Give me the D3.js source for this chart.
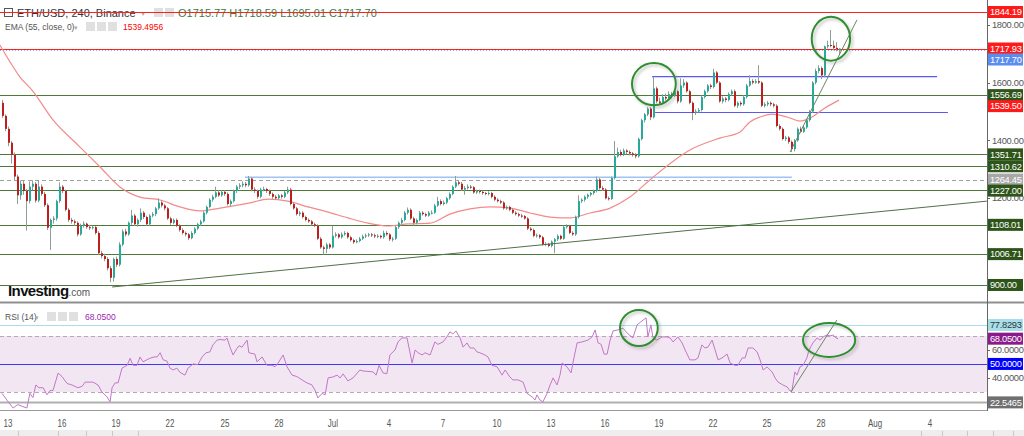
<!DOCTYPE html>
<html>
  <head>
    <meta charset="utf-8">
    <title>ETH/USD, 240, Binance</title>
    <script src="https://d3js.org/d3.v7.min.js"></script>
    <style>
      body { margin: 0; background: #fff; }
      svg { display: block; font-family: "Liberation Sans", Arial, sans-serif; }
      .narrow { font-family: "Liberation Sans", Arial, sans-serif; font-size: 10px; }
      .tag { font-family: "Liberation Sans", Arial, sans-serif; font-size: 9.3px; letter-spacing: -0.3px; }
    </style>
  </head>
  <body>
    <script>
      // bar index = 4h bars counted from 13 Jun 00:00, first visible bar is -2
      var firstBar = -2;

      var opens = [
        1530,1485,1440,1392,1350,1275,1210,1250,1225,1190,
        1240,1250,1192,1240,1215,1176,1098,1125,1130,1190,
        1240,1225,1160,1125,1120,1115,1075,1105,1112,1100,
        1098,1100,1080,1010,1000,990,958,925,990,970,
        1040,1085,1075,1115,1140,1110,1125,1150,1135,1110,
        1140,1145,1165,1185,1175,1165,1130,1115,1125,1105,
        1090,1080,1075,1062,1080,1095,1110,1120,1150,1170,
        1195,1205,1220,1210,1222,1215,1180,1190,1225,1240,
        1245,1250,1245,1268,1230,1225,1205,1230,1232,1225,
        1215,1205,1200,1210,1205,1220,1230,1180,1165,1145,
        1150,1135,1125,1120,1110,1105,1060,1030,1025,1040,
        1030,1070,1075,1065,1075,1080,1065,1055,1048,1052,
        1060,1068,1072,1075,1072,1068,1070,1065,1080,1075,
        1058,1060,1100,1115,1125,1150,1160,1130,1115,1125,
        1150,1145,1140,1150,1150,1175,1190,1180,1185,1200,
        1215,1240,1255,1250,1230,1235,1240,1238,1220,1225,
        1222,1218,1215,1218,1205,1195,1190,1185,1165,1170,
        1160,1150,1145,1140,1138,1130,1095,1090,1070,1072,
        1065,1040,1042,1035,1050,1058,1070,1060,1100,1105,
        1080,1075,1135,1190,1195,1205,1212,1218,1225,1265,
        1235,1230,1200,1198,1270,1345,1360,1350,1365,1360,
        1355,1350,1345,1405,1470,1490,1510,1480,1580,1535,
        1530,1550,1545,1560,1555,1570,1535,1590,1600,1570,
        1530,1495,1500,1505,1550,1570,1590,1585,1635,1600,
        1535,1545,1540,1560,1570,1520,1530,1525,1550,1590,
        1605,1600,1605,1600,1520,1525,1530,1525,1520,1450,
        1440,1405,1410,1395,1370,1400,1440,1430,1445,1470,
        1500,1600,1640,1650,1625,1725,1730,1728,1720,1715.77
      ];
      var highs = [
        1540,1490,1448,1398,1358,1282,1262,1262,1232,1258,
        1262,1256,1262,1248,1222,1182,1130,1138,1195,1255,
        1246,1230,1166,1132,1126,1120,1112,1120,1116,1108,
        1106,1104,1086,1018,1008,996,966,995,998,1048,
        1092,1094,1120,1160,1146,1130,1165,1156,1140,1145,
        1152,1170,1200,1192,1180,1170,1136,1130,1130,1110,
        1096,1085,1080,1086,1100,1115,1126,1155,1175,1200,
        1212,1240,1228,1228,1228,1220,1196,1230,1246,1252,
        1258,1256,1277,1272,1238,1230,1236,1240,1236,1230,
        1220,1212,1215,1215,1226,1240,1236,1186,1170,1156,
        1155,1140,1130,1125,1116,1110,1066,1036,1046,1045,
        1105,1082,1080,1082,1086,1084,1070,1060,1058,1066,
        1074,1078,1080,1080,1078,1076,1074,1088,1086,1080,
        1066,1106,1120,1132,1156,1168,1165,1136,1130,1156,
        1156,1150,1156,1158,1180,1205,1196,1192,1205,1220,
        1245,1277,1262,1256,1242,1248,1246,1242,1230,1230,
        1226,1222,1224,1222,1210,1200,1195,1190,1175,1174,
        1165,1155,1150,1146,1142,1135,1100,1095,1078,1076,
        1070,1048,1046,1054,1062,1075,1074,1105,1110,1108,
        1086,1140,1210,1200,1210,1216,1222,1230,1275,1270,
        1242,1235,1206,1275,1398,1375,1368,1372,1370,1366,
        1360,1356,1410,1475,1495,1515,1516,1620,1586,1548,
        1560,1562,1570,1568,1578,1575,1615,1612,1605,1575,
        1535,1508,1512,1556,1576,1595,1596,1648,1640,1605,
        1552,1550,1566,1576,1576,1535,1536,1556,1595,1625,
        1612,1612,1660,1605,1532,1536,1535,1530,1525,1456,
        1445,1416,1415,1400,1405,1445,1448,1450,1475,1505,
        1605,1648,1660,1656,1728,1745,1782,1745,1740,1718.59
      ];
      var lows = [
        1478,1432,1380,1320,1262,1180,1195,1212,1088,1182,
        1228,1185,1186,1208,1170,1090,1021,1112,1122,1184,
        1218,1155,1118,1112,1105,1068,1070,1098,1094,1090,
        1092,1074,1004,992,982,950,910,912,962,964,
        1034,1068,1070,1108,1104,1102,1118,1128,1104,1104,
        1134,1138,1160,1168,1158,1125,1108,1110,1100,1084,
        1074,1068,1055,1058,1075,1090,1104,1116,1144,1165,
        1188,1200,1204,1205,1208,1175,1172,1185,1218,1232,
        1238,1238,1240,1224,1218,1198,1200,1224,1218,1208,
        1198,1194,1195,1198,1200,1214,1175,1160,1140,1138,
        1130,1120,1115,1105,1100,1055,1025,1005,1010,1024,
        1026,1064,1060,1060,1070,1060,1050,1042,1044,1048,
        1055,1062,1066,1066,1062,1062,1060,1060,1070,1052,
        1050,1056,1094,1110,1120,1144,1125,1105,1110,1120,
        1140,1135,1136,1144,1146,1170,1175,1175,1180,1195,
        1210,1235,1244,1225,1212,1230,1232,1215,1215,1216,
        1212,1210,1210,1200,1190,1185,1180,1160,1160,1155,
        1145,1140,1135,1132,1126,1090,1085,1065,1064,1060,
        1036,1034,1030,1030,1010,1052,1055,1056,1095,1076,
        1070,1070,1130,1184,1188,1198,1206,1212,1220,1230,
        1225,1196,1192,1194,1265,1340,1345,1346,1352,1348,
        1344,1338,1340,1400,1462,1484,1470,1476,1528,1522,
        1525,1538,1540,1545,1550,1528,1530,1582,1565,1525,
        1470,1488,1494,1500,1545,1565,1578,1580,1595,1530,
        1528,1532,1535,1555,1515,1512,1518,1520,1545,1585,
        1594,1596,1595,1515,1514,1518,1518,1514,1445,1434,
        1400,1398,1388,1360,1362,1395,1425,1426,1440,1465,
        1495,1594,1632,1612,1618,1718,1722,1712,1708,1695.01
      ];
      var closes = [
        1485,1440,1392,1350,1275,1210,1250,1225,1190,1240,
        1250,1192,1240,1215,1176,1098,1125,1130,1190,1240,
        1225,1160,1125,1120,1115,1075,1105,1112,1100,1098,
        1100,1080,1010,1000,990,958,925,990,970,1040,
        1085,1075,1115,1140,1110,1125,1150,1135,1110,1140,
        1145,1165,1185,1175,1165,1130,1115,1125,1105,1090,
        1080,1075,1062,1080,1095,1110,1120,1150,1170,1195,
        1205,1220,1210,1222,1215,1180,1190,1225,1240,1245,
        1250,1245,1268,1230,1225,1205,1230,1232,1225,1215,
        1205,1200,1210,1205,1220,1230,1180,1165,1145,1150,
        1135,1125,1120,1110,1105,1060,1030,1025,1040,1030,
        1070,1075,1065,1075,1080,1065,1055,1048,1052,1060,
        1068,1072,1075,1072,1068,1070,1065,1080,1075,1058,
        1060,1100,1115,1125,1150,1160,1130,1115,1125,1150,
        1145,1140,1150,1150,1175,1190,1180,1185,1200,1215,
        1240,1255,1250,1230,1235,1240,1238,1220,1225,1222,
        1218,1215,1218,1205,1195,1190,1185,1165,1170,1160,
        1150,1145,1140,1138,1130,1095,1090,1070,1072,1065,
        1040,1042,1035,1050,1058,1070,1060,1100,1105,1080,
        1075,1135,1190,1195,1205,1212,1218,1225,1265,1235,
        1230,1200,1198,1270,1345,1360,1350,1365,1360,1355,
        1350,1345,1405,1470,1490,1510,1480,1580,1535,1530,
        1550,1545,1560,1555,1570,1535,1590,1600,1570,1530,
        1495,1500,1505,1550,1570,1590,1585,1635,1600,1535,
        1545,1540,1560,1570,1520,1530,1525,1550,1590,1605,
        1600,1605,1600,1520,1525,1530,1525,1520,1450,1440,
        1405,1410,1395,1370,1400,1440,1430,1445,1470,1500,
        1600,1640,1650,1625,1725,1730,1728,1720,1715.77,1717.70
      ];

      // EMA(55) (bar, value)
      var emaBars = [-2.7,0.7,4,8,15,24,30.7,37.3,44,50.7,57.3,64,70.7,80.7,86.7,93.3,100,106.7,113.3,120,
        126.7,133.3,140.7,147.3,154,160.7,167.3,174,180.7,187.3,194,200.7,207.3,214.7,227.3,237.3,244,247.3,250.7,254.7,
        259.7,264,267.3,272.3,277];
      var emaValues = [1730,1671,1619,1574,1471,1377,1308,1239,1204,1194,1170,1156,1166,1184,1197,1190,1170,1152,1132,1114,
        1104,1111,1114,1145,1163,1170,1166,1149,1135,1132,1149,1166,1204,1270,1367,1408,1429,1464,1481,1491,
        1481,1467,1477,1512,1539.5];

      // RSI(14) (bar, value)
      var rsiBars = [-2,-0.3,1.7,3.3,5,6.3,7.3,8.3,9.3,10.3,11.7,13,14,15,16.7,18,19.7,21.3,23.3,24.7,
        25.7,28.3,30,31.3,33,34,34.7,35.7,36.7,38,39.7,40.7,41.7,43,44,45,46.3,47.3,48.7,49.7,
        50.7,51.7,53,54,55,56.3,57.3,59,60,61.7,63.3,64.7,66,67.3,68.3,69.7,70.7,72.3,73,74,
        75,76.3,77,78,79.7,80.3,82.3,83,84.7,86.3,88,89,90,91.7,93,94.7,96.3,98,99.7,101.3,
        102.3,103.3,104.7,105.7,106.7,108.3,109.7,110.7,111.7,113.3,115,117.3,118.3,121.7,122.7,123.7,125,126.3,127.3,129,
        130,131.3,133,134.7,135.7,136.7,138,139,140.7,142.3,143.3,145,146.3,147.3,148.3,149.3,150.7,151.7,153,154,
        155.3,156.3,157.3,159,160,161.3,163,164.7,165.7,167.3,168.3,170,171.7,173,174.7,175.7,176.3,177.3,178.3,179.7,
        180.7,181.7,183,184,184.7,186.3,187.7,188.3,189.7,191.3,193.3,194.7,195.7,196.7,197.7,198.7,199.7,200.7,201.7,203.3,
        205,206.7,208.3,209.7,211.7,212.7,213.3,214.3,215,216.3,218,219.7,220.7,221.7,223.3,224.7,225.7,227.3,229,230,
        231.3,232.3,233.3,234.7,235.7,236.7,238,239.7,240.7,242.3,243.3,244.7,245.7,246.7,248.3,249.7,250.7,251.7,253,254.7,
        255.7,256.7,258.3,259.7,260.7,261.3,262.3,263,264,265,266.3,267,268.3,269.7,270.7,271.7,273,274,275,276,276.7];
      var rsiValues = [29,24,18.5,21,19.5,18.5,29,26,35,33,33,28,31,31,43.5,41,36,35,33,34,
        37,37,35,30,26.5,23,33,36.5,36.5,47,49,54,49,49,55,51.5,53,54,55,55,
        58,53,52,47,45.7,47,44,42,47,50,49.5,55,58,58.6,63.6,67,67.5,67,68.5,62,
        56.4,61,63,62,67,58,57,51.5,55,49,49,48,50.5,56.4,48,42,41,38.6,36.4,35,
        31.4,25.7,29,27.9,40,40.7,42,40,42.9,37.9,40,45.7,45,44.3,42,49,43.6,43,56.4,60,
        65.7,68.6,68.6,50.7,60,58,56.4,58,56.4,65.7,64,65.7,69.3,72.9,71.4,73.6,68.6,62,65,61.4,
        61.4,58.6,58,56.4,55,49,48,42,45.7,40.7,38.6,38.6,37,29,26.4,24.3,27.9,24.3,22.9,29,
        35,40,35,42,50.7,48,43.6,50.7,65,65.7,67,69.3,74.3,65,64,57,57,67,73.6,74.3,
        75.5,71.4,68.6,77.9,81.4,82.9,69.3,77.9,68.6,67,69.3,69.3,68.6,65.7,69.3,65,60,52.9,52.9,54.3,
        63.6,61.4,62,67,60,52.9,54.3,57,50.7,49,49,54.3,54.3,61.4,61.4,58.6,52.9,45.7,47.9,44.3,
        40,37,35,33.6,30.7,30.7,44.3,42,47.9,49,54.3,60,65,68.6,67,69.3,70.7,70,70.7,68.6,68.05];

      // price levels drawn on the chart
      var greenLevels = [1556.69, 1351.71, 1310.62, 1227.00, 1108.01, 1006.71, 900.00];
      var redLevels = [1844.19, 1717.93];
      var dashedLevel = 1264.45;
      var lastClose = 1717.70;
      var emaLast = 1539.50;
      var priceTicks = [900, 1000, 1100, 1200, 1300, 1400, 1500, 1600, 1700, 1800];

      // segments: [bar0, value0, bar1, value1]
      var lightBlueLine = [79, 1273, 261.3, 1273];
      var channelLines = [[214.7, 1620.8, 309.7, 1620.8], [215.7, 1496.5, 313.3, 1496.5]];
      var trendLines = [[34.7, 893, 326.3, 1190], [260.7, 1360, 283, 1817]];
      var rsiTrend = [261, 30, 276.3, 81.4];

      // circled areas: [bar, value, half-width in bars, half-height in value]
      var priceCircles = [[215.3, 1595, 7.3, 73], [274.3, 1752, 6.4, 76]];
      var rsiCircles = [[210.3, 75.7, 6.3, 12.9], [273.7, 67.1, 8.7, 12.1]];

      var rsiTop = 77.8293, rsiLast = 68.05, rsiBottom = 22.5465;
      var rsiTicks = [40, 50, 60];

      var dateLabels = ["13", "16", "19", "22", "25", "28", "Jul", "4", "7", "10", "13", "16", "19", "22", "25", "28", "Aug", "4"];
      var dateBars = [0, 18, 36, 54, 72.3, 90.3, 108.3, 127, 145, 163, 181, 199, 217, 235, 253, 271, 289, 307.3];

      var W = 1024, H = 436, axisX = 987;

      var svg = d3.select("body").append("svg")
        .attr("width", W)
        .attr("height", H);

      var xScale = d3.scaleLinear().domain([0, 100]).range([8, 308]);
      var yPrice = d3.scaleLinear().domain([841.1, 1885.7]).range([302, 0]);
      var yRsi = d3.scaleLinear().domain([17.1, 92.1]).range([410, 305]);

      // squeeze a text to a narrow look (no condensed font installed)
      function narrow(sel) {
        sel.each(function() {
          var w = this.getComputedTextLength();
          d3.select(this).attr("textLength", w * 0.8).attr("lengthAdjust", "spacingAndGlyphs");
        });
      }

      var defs = svg.append("defs");
      defs.append("clipPath").attr("id", "mainClip").append("rect")
        .attr("x", 0).attr("y", 0).attr("width", axisX).attr("height", 302);
      defs.append("clipPath").attr("id", "rsiClip").append("rect")
        .attr("x", 0).attr("y", 304).attr("width", axisX).attr("height", 106);
      var shadow = defs.append("filter").attr("id", "shadow")
        .attr("x", "-30%").attr("y", "-30%").attr("width", "160%").attr("height", "160%");
      shadow.append("feDropShadow").attr("dx", 2).attr("dy", 2).attr("stdDeviation", 1.5)
        .attr("flood-color", "#777").attr("flood-opacity", 0.45);

      // ---------- legends ----------
      function icons(g, x0, y0) {
        for (var k = 0; k < 3; k++) {
          g.append("rect").attr("x", x0 + k * 11).attr("y", y0)
            .attr("width", 9).attr("height", 9).attr("fill", "#e0e0e0");
        }
      }

      var legend = svg.append("g");
      legend.append("rect").attr("x", 4.5).attr("y", 8.5).attr("width", 8).attr("height", 8)
        .attr("fill", "none").attr("stroke", "#555");
      legend.append("text").attr("x", 17).attr("y", 16.5).attr("font-size", 11).attr("fill", "#333")
        .text("ETH/USD, 240, Binance");
      legend.append("text").attr("x", 141).attr("y", 16).attr("font-size", 8).attr("fill", "#aaa").text("\u25BE");
      legend.append("rect").attr("x", 154).attr("y", 8).attr("width", 9).attr("height", 9).attr("fill", "#e0e0e0");
      legend.append("rect").attr("x", 165).attr("y", 8).attr("width", 9).attr("height", 9).attr("fill", "#e0e0e0");
      legend.append("text").attr("x", 178).attr("y", 16.5).attr("font-size", 11).attr("fill", "#3f7a3f")
        .text("O1715.77  H1718.59  L1695.01  C1717.70");

      legend.append("text").attr("x", 5).attr("y", 30).attr("font-size", 8.5).attr("fill", "#555")
        .text("EMA (55, close, 0)");
      legend.append("text").attr("x", 74).attr("y", 30).attr("font-size", 7).attr("fill", "#aaa").text("\u25BE");
      icons(legend, 86, 22);
      legend.append("text").attr("x", 123).attr("y", 30).attr("font-size", 8.5).attr("fill", "#f00")
        .text("1539.4956");

      legend.append("text").attr("x", 5).attr("y", 320).attr("font-size", 8.5).attr("fill", "#555")
        .text("RSI (14)");
      legend.append("text").attr("x", 35).attr("y", 320).attr("font-size", 7).attr("fill", "#aaa").text("\u25BE");
      icons(legend, 47, 312);
      legend.append("text").attr("x", 85).attr("y", 320).attr("font-size", 8.5).attr("fill", "#9c27b0")
        .text("68.0500");

      // ---------- main pane ----------
      var main = svg.append("g").attr("clip-path", "url(#mainClip)");

      function hline(g, scale, v, color, width, dash) {
        g.append("line")
          .attr("x1", 0).attr("x2", axisX)
          .attr("y1", Math.round(scale(v)) + 0.5).attr("y2", Math.round(scale(v)) + 0.5)
          .attr("stroke", color).attr("stroke-width", width)
          .attr("stroke-dasharray", dash || null);
      }

      greenLevels.forEach(function(v) { hline(main, yPrice, v, "#4d7a3c", 1.2); });
      hline(main, yPrice, dashedLevel, "#a0a0a0", 1, "4,3");
      hline(main, yPrice, redLevels[0], "#ff2020", 1);
      hline(main, yPrice, redLevels[1], "#ff2020", 1);
      main.append("line")
        .attr("x1", 0).attr("x2", axisX)
        .attr("y1", Math.round(yPrice(lastClose)) + 1.5).attr("y2", Math.round(yPrice(lastClose)) + 1.5)
        .attr("stroke", "#9aa8f0").attr("stroke-dasharray", "1,2");

      function segment(g, sx, sy, s, color, width) {
        g.append("line")
          .attr("x1", sx(s[0])).attr("y1", sy(s[1]))
          .attr("x2", sx(s[2])).attr("y2", sy(s[3]))
          .attr("stroke", color).attr("stroke-width", width);
      }

      segment(main, xScale, yPrice, lightBlueLine, "#9fc3f5", 1.5);
      channelLines.forEach(function(s) { segment(main, xScale, yPrice, s, "#5a5af0", 1.2); });

      var emaLine = d3.line()
        .x(function(d) { return xScale(d[0]); })
        .y(function(d) { return yPrice(d[1]); })
        .curve(d3.curveMonotoneX);
      main.append("path")
        .datum(d3.zip(emaBars, emaValues))
        .attr("d", emaLine)
        .attr("fill", "none")
        .attr("stroke", "#f48a8a")
        .attr("stroke-width", 1.2);

      var bars = closes.map(function(c, k) {
        return { i: firstBar + k, o: opens[k], h: highs[k], l: lows[k], c: c };
      });

      var candles = main.selectAll("g.candle")
        .data(bars)
        .enter().append("g")
          .attr("class", "candle");

      candles.append("line")
        .attr("x1", function(d) { return Math.round(xScale(d.i)) + 0.5; })
        .attr("x2", function(d) { return Math.round(xScale(d.i)) + 0.5; })
        .attr("y1", function(d) { return yPrice(d.h); })
        .attr("y2", function(d) { return yPrice(d.l); })
        .attr("stroke", "#8f9f96");

      candles.append("rect")
        .attr("x", function(d) { return Math.round(xScale(d.i)); })
        .attr("width", 2)
        .attr("y", function(d) { return yPrice(Math.max(d.o, d.c)); })
        .attr("height", function(d) { return Math.max(1, Math.abs(yPrice(d.o) - yPrice(d.c))); })
        .attr("fill", function(d) { return d.c >= d.o ? "#28a999" : "#be1e1e"; });

      trendLines.forEach(function(s, k) {
        segment(main, xScale, yPrice, s, k === 0 ? "#50704a" : "#6e8562", 1);
      });

      function ellipse(g, sy, c) {
        g.append("ellipse")
          .attr("cx", xScale(c[0]))
          .attr("cy", sy(c[1]))
          .attr("rx", xScale(c[2]) - xScale(0))
          .attr("ry", Math.abs(sy(0) - sy(c[3])))
          .attr("fill", "none")
          .attr("stroke", "#2f8f2f")
          .attr("stroke-width", 2)
          .attr("filter", "url(#shadow)");
      }
      priceCircles.forEach(function(c) { ellipse(main, yPrice, c); });

      // watermark
      var logo = svg.append("g");
      var inv = logo.append("text").attr("x", 8).attr("y", 296)
        .attr("font-size", 15).attr("font-weight", "bold").attr("fill", "#111")
        .attr("letter-spacing", -0.6).text("Investing");
      var invW = inv.node().getComputedTextLength();
      logo.append("text").attr("x", 8 + invW).attr("y", 296)
        .attr("font-size", 10).attr("fill", "#555").text(".com");

      // ---------- RSI pane ----------
      var rsi = svg.append("g").attr("clip-path", "url(#rsiClip)");
      rsi.append("rect")
        .attr("x", 0).attr("width", axisX)
        .attr("y", yRsi(70)).attr("height", yRsi(30) - yRsi(70))
        .attr("fill", "#f3e6f3");
      hline(rsi, yRsi, 70, "#b7a7b7", 1, "4,3");
      hline(rsi, yRsi, 30, "#b7a7b7", 1, "4,3");
      hline(rsi, yRsi, 50, "#3a3aff", 1);
      hline(rsi, yRsi, rsiTop, "#aadfea", 1.2);
      hline(rsi, yRsi, rsiBottom, "#b0b0b0", 2);

      var rsiLine = d3.line()
        .x(function(d) { return xScale(d[0]); })
        .y(function(d) { return yRsi(d[1]); });
      rsi.append("path")
        .datum(d3.zip(rsiBars, rsiValues))
        .attr("d", rsiLine)
        .attr("fill", "none")
        .attr("stroke", "#c277c8")
        .attr("stroke-width", 1);

      segment(rsi, xScale, yRsi, rsiTrend, "#6e8562", 1);
      rsiCircles.forEach(function(c) { ellipse(rsi, yRsi, c); });

      // ---------- frame ----------
      svg.append("line").attr("x1", 0).attr("x2", W).attr("y1", 302.5).attr("y2", 302.5)
        .attr("stroke", "#8f8f8f").attr("stroke-width", 2);
      svg.append("line").attr("x1", 0).attr("x2", axisX).attr("y1", 410.5).attr("y2", 410.5)
        .attr("stroke", "#9a9a9a");
      svg.append("line").attr("x1", axisX + 0.5).attr("x2", axisX + 0.5).attr("y1", 0).attr("y2", 411)
        .attr("stroke", "#666");

      // ---------- right axis ----------
      var axisG = svg.append("g").attr("class", "tag");

      function placeTags(list, scale) {
        list.forEach(function(t) { t.y = scale(t.v); });
        list.sort(function(a, b) { return a.y - b.y; });
        for (var k = 1; k < list.length; k++) {
          if (list[k].y < list[k - 1].y + 11) list[k].y = list[k - 1].y + 11;
        }
        return list;
      }

      function drawTicks(ticks, scale, fmt, tagList) {
        ticks.forEach(function(v) {
          var yPos = scale(v);
          // the axis hides a tick label that sits under a coloured tag
          var hidden = tagList.some(function(t) { return Math.abs(t.y - yPos) < 6; });
          if (hidden) return;
          axisG.append("line").attr("x1", axisX).attr("x2", axisX + 3)
            .attr("y1", Math.round(yPos) + 0.5).attr("y2", Math.round(yPos) + 0.5).attr("stroke", "#666");
          axisG.append("text").attr("x", axisX + 5).attr("y", yPos).attr("dy", "0.35em")
            .attr("fill", "#555").text(fmt(v));
        });
      }

      function drawTags(list, fmt) {
        list.forEach(function(t) {
          var g = axisG.append("g").attr("transform", "translate(" + (axisX + 1) + "," + t.y + ")");
          g.append("rect").attr("x", 0).attr("y", -6).attr("width", 35).attr("height", 12).attr("fill", t.bg);
          g.append("text").attr("x", 2).attr("y", 0).attr("dy", "0.35em").attr("fill", t.fg)
            .text(fmt(t.v));
        });
      }

      var priceTags = [];
      redLevels.forEach(function(v) { priceTags.push({ v: v, bg: "#ff1a1a", fg: "#fff" }); });
      priceTags.push({ v: lastClose, bg: "#5b8def", fg: "#fff" });
      priceTags.push({ v: emaLast, bg: "#ff1a1a", fg: "#fff" });
      priceTags.push({ v: dashedLevel, bg: "#a8a8a8", fg: "#fff" });
      greenLevels.forEach(function(v) { priceTags.push({ v: v, bg: "#2d5419", fg: "#fff" }); });
      placeTags(priceTags, yPrice);

      var rsiTags = placeTags([
        { v: rsiTop, bg: "#a6dfea", fg: "#333" },
        { v: rsiLast, bg: "#8b1a8b", fg: "#fff" },
        { v: 50, bg: "#0000ff", fg: "#fff" },
        { v: rsiBottom, bg: "#707070", fg: "#fff" }
      ], yRsi);

      drawTicks(priceTicks, yPrice, d3.format(".2f"), priceTags);
      drawTicks(rsiTicks, yRsi, d3.format(".4f"), rsiTags);
      drawTags(priceTags, d3.format(".2f"));
      drawTags(rsiTags, d3.format(".4f"));

      // ---------- time axis ----------
      var timeG = svg.append("g").attr("class", "narrow");
      timeG.selectAll("text")
        .data(dateLabels)
        .enter().append("text")
          .attr("x", function(d, k) { return xScale(dateBars[k]); })
          .attr("y", 427)
          .attr("text-anchor", "middle")
          .attr("fill", "#555")
          .text(function(d) { return d; })
          .call(narrow);

      svg.append("rect").attr("x", 0).attr("y", 430).attr("width", W).attr("height", 6).attr("fill", "#eeeeee");
      [18, 58, 86, 112, 138, 921, 942, 967, 993, 1013].forEach(function(px) {
        svg.append("line").attr("x1", px + 0.5).attr("x2", px + 0.5).attr("y1", 431).attr("y2", 436)
          .attr("stroke", "#c8c8c8");
      });
    </script>
  </body>
</html>
